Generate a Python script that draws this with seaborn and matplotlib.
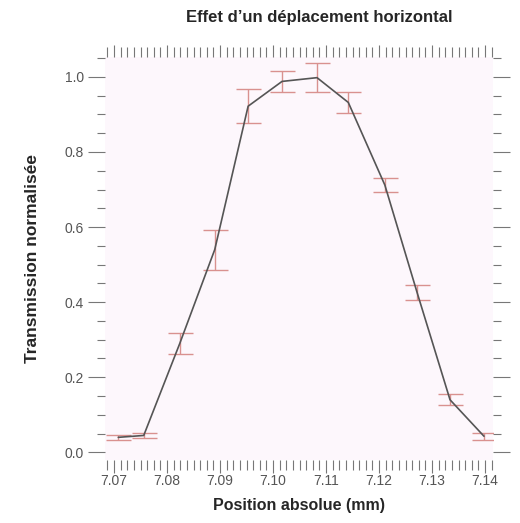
import numpy as np
import pandas as pd
import seaborn as sns
import matplotlib.pyplot as plt
from matplotlib.ticker import MultipleLocator

position = [7.0708, 7.0756, 7.0824, 7.0890, 7.0953, 7.1017, 7.1083, 7.1142, 7.1211, 7.1272, 7.1334, 7.1398]
transmission = [0.040, 0.045, 0.290, 0.540, 0.922, 0.988, 0.998, 0.932, 0.712, 0.425, 0.140, 0.043]
erreur = [0.006, 0.006, 0.027, 0.053, 0.046, 0.028, 0.038, 0.027, 0.019, 0.020, 0.015, 0.009]

df = pd.DataFrame({"position": position, "transmission": transmission, "erreur": erreur})

sns.set_style("white")
plt.rcParams["font.family"] = ["Liberation Sans", "DejaVu Sans"]

fig = plt.figure(figsize=(5.2, 5.23), dpi=100)
ax = fig.add_axes([0.202, 0.12, 0.746, 0.771])
ax.set_facecolor("#fdf7fc")

ax.errorbar(df["position"], df["transmission"], yerr=df["erreur"], fmt="none",
            ecolor="#d9918f", elinewidth=1.0, capsize=9, capthick=1.0, zorder=2)
sns.lineplot(data=df, x="position", y="transmission", color="#555555",
             linewidth=1.2, ax=ax, zorder=3)

ax.set_xlim(7.0683, 7.1415)
ax.set_ylim(-0.021, 1.053)
ax.xaxis.set_major_locator(MultipleLocator(0.01))
ax.xaxis.set_minor_locator(MultipleLocator(0.00125))
ax.yaxis.set_major_locator(MultipleLocator(0.2))
ax.yaxis.set_minor_locator(MultipleLocator(0.05))
ax.xaxis.set_major_formatter(plt.FuncFormatter(lambda v, p: f"{v:.2f}"))
ax.yaxis.set_major_formatter(plt.FuncFormatter(lambda v, p: f"{v:.1f}"))

for s in ax.spines.values():
    s.set_visible(False)

ax.tick_params(which="both", direction="out", color="#777777", width=0.8,
               top=True, right=True, bottom=True, left=True,
               labeltop=False, labelright=False)
ax.tick_params(axis="y", which="major", length=12, labelsize=10, labelcolor="#555555", pad=3)
ax.tick_params(axis="y", which="minor", length=6)
ax.tick_params(axis="x", which="major", length=9, labelsize=10, labelcolor="#555555", pad=1)
ax.tick_params(axis="x", which="minor", length=7)

ax.set_xlabel("Position absolue (mm)", fontsize=11.5, fontweight="bold", labelpad=7)
ax.set_ylabel("Transmission normalisée", fontsize=12.5, fontweight="bold", labelpad=18)
fig.text(0.613, 0.966, "Effet d\u2019un déplacement horizontal", ha="center", va="center",
         fontsize=12, fontweight="bold")

fig.savefig("out.png", dpi=100, facecolor="white")
